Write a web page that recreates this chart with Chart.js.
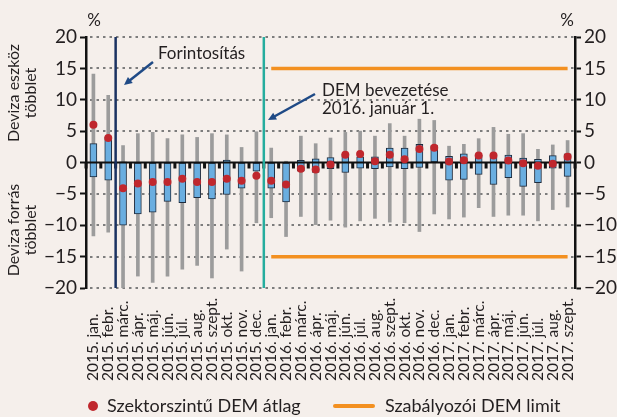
<!DOCTYPE html>
<html>
<head>
<meta charset="utf-8">
<script src="https://cdn.jsdelivr.net/npm/chart.js@4.4.1/dist/chart.umd.min.js"></script>
<style>
  html, body { margin: 0; padding: 0; background: #f5efeb; }
  #wrap { width: 617px; height: 417px; }
</style>
</head>
<body>
<div id="wrap"><canvas id="dem-chart"></canvas></div>
<script>
// Kategóriák (hónapok)
const categories = [
  "2015. jan.", "2015. febr.", "2015. márc.", "2015. ápr.", "2015. máj.", "2015. jún.",
  "2015. júl.", "2015. aug.", "2015. szept.", "2015. okt.", "2015. nov.", "2015. dec.",
  "2016. jan.", "2016. febr.", "2016. márc.", "2016. ápr.", "2016. máj.", "2016. jún.",
  "2016. júl.", "2016. aug.", "2016. szept.", "2016. okt.", "2016. nov.", "2016. dec.",
  "2017. jan.", "2017. febr.", "2017. márc.", "2017. ápr.", "2017. máj.", "2017. jún.",
  "2017. júl.", "2017. aug.", "2017. szept."
];

// Szélső értékek (bajusz)
const whiskerHigh = [14.1, 10.7, 2.7, 4.6, 4.8, 3.8, 4.4, 4.0, 4.6, 4.4, 2.4, 4.9,
  2.3, 0.2, 4.2, 3.0, 3.9, 4.8, 5.0, 4.2, 6.2, 4.2, 6.9, 6.7,
  2.6, 2.9, 3.8, 5.6, 4.5, 4.6, 2.1, 2.8, 3.5];
const whiskerLow = [-11.7, -11.1, -20, -18.1, -19.1, -18.1, -17.0, -16.4, -18.4, -13.8, -17.3, -9.6,
  -8.8, -11.8, -8.6, -9.9, -9.2, -10.3, -9.3, -8.9, -9.5, -9.6, -11.0, -8.2,
  -9.0, -8.7, -7.2, -8.6, -8.4, -8.4, -9.3, -7.5, -7.1];

// Doboz (kvartilisek)
const boxHigh = [3.0, 4.0, 0.1, 0, 0, 0, 0, 0, 0, 0.4, 0, 0,
  0, 0, 0.35, 0.6, 0.8, 1.3, 0.9, 0.9, 2.3, 2.3, 2.9, 2.7,
  1.0, 1.4, 1.2, 0.9, 1.2, 0.7, 0.5, 1.1, 1.4];
const boxLow = [-2.3, -2.8, -10.0, -8.2, -7.9, -6.2, -6.4, -5.6, -5.8, -5.1, -4.1, -1.4,
  -4.1, -6.3, -1.4, -1.6, -1.0, -1.6, -0.9, -1.0, -0.7, -1.0, -0.8, 0,
  -2.8, -2.7, -1.9, -3.5, -2.4, -3.8, -3.2, -0.9, -2.2];

// Szektorszintű DEM átlag
const average = [6.0, 3.9, -4.1, -3.35, -3.1, -3.1, -2.6, -3.1, -3.1, -2.6, -2.9, -2.1,
  -2.9, -3.5, -1.0, -1.1, -0.3, 1.25, 1.35, 0.2, 1.25, 0.5, 2.15, 2.35,
  0.15, 0.35, 1.1, 1.1, 0.3, -0.1, -0.5, -0.2, 0.9];

// Szabályozói DEM limit (2016. jan.-tól)
const limitHigh = categories.map((c, i) => (i >= 12 ? 15 : null));
const limitLow = categories.map((c, i) => (i >= 12 ? -15 : null));

const yTicks = [-20, -15, -10, -5, 0, 5, 10, 15, 20];

const FONT = "Lato, 'Open Sans', sans-serif";
const TEXT = "#231f20";

function fmt(v) {
  return v < 0 ? "\u2212" + Math.abs(v) : String(v);
}

function arrow(ctx, x1, y1, x2, y2) {
  const a = Math.atan2(y2 - y1, x2 - x1);
  const h = 9;
  ctx.save();
  ctx.strokeStyle = "#1f4a86";
  ctx.fillStyle = "#1f4a86";
  ctx.lineWidth = 2.5;
  ctx.beginPath();
  ctx.moveTo(x1, y1);
  ctx.lineTo(x2 - Math.cos(a) * h * 0.8, y2 - Math.sin(a) * h * 0.8);
  ctx.stroke();
  ctx.beginPath();
  ctx.moveTo(x2, y2);
  ctx.lineTo(x2 - h * Math.cos(a - 0.45), y2 - h * Math.sin(a - 0.45));
  ctx.lineTo(x2 - h * Math.cos(a + 0.45), y2 - h * Math.sin(a + 0.45));
  ctx.closePath();
  ctx.fill();
  ctx.restore();
}

const demPlugin = {
  id: "demPlugin",
  beforeDraw(chart) {
    const ctx = chart.ctx;
    ctx.save();
    ctx.fillStyle = "#f5efeb";
    ctx.fillRect(0, 0, chart.width, chart.height);
    ctx.restore();
  },
  beforeDatasetsDraw(chart) {
    // pontozott rácsvonalak
    const ctx = chart.ctx;
    const y = chart.scales.y;
    const area = chart.chartArea;
    ctx.save();
    ctx.strokeStyle = "#7d7d7d";
    ctx.lineWidth = 2;
    ctx.setLineDash([2.5, 4]);
    yTicks.forEach((v) => {
      if (v === 0) return;
      const py = Math.round(y.getPixelForValue(v));
      ctx.beginPath();
      ctx.moveTo(area.left + 4, py);
      ctx.lineTo(area.right, py);
      ctx.stroke();
    });
    ctx.restore();
  },
  afterDatasetDraw(chart, args) {
    // nullvonal a dobozok fölött, a pontok alatt
    if (args.index !== 3) return;
    const ctx = chart.ctx;
    const x = chart.scales.x;
    const y0 = chart.scales.y.getPixelForValue(0);
    const area = chart.chartArea;
    ctx.save();
    ctx.strokeStyle = "#111";
    ctx.lineWidth = 2;
    ctx.beginPath();
    ctx.moveTo(area.left, y0);
    ctx.lineTo(area.right, y0);
    ctx.stroke();
    ctx.lineWidth = 3;
    for (let i = 0; i <= categories.length; i++) {
      const px = x.getPixelForValue(i - 0.5);
      ctx.beginPath();
      ctx.moveTo(px, y0);
      ctx.lineTo(px, y0 + 6);
      ctx.stroke();
    }
    ctx.restore();
  },
  afterDraw(chart) {
    const ctx = chart.ctx;
    const x = chart.scales.x;
    const area = chart.chartArea;

    // függőleges jelölővonalak
    ctx.save();
    ctx.lineWidth = 2.5;
    ctx.strokeStyle = "#1b3262";
    let px = x.getPixelForValue(1.5);
    ctx.beginPath();
    ctx.moveTo(px, area.top);
    ctx.lineTo(px, area.bottom);
    ctx.stroke();
    ctx.strokeStyle = "#25ad9e";
    px = x.getPixelForValue(11.5);
    ctx.beginPath();
    ctx.moveTo(px, area.top);
    ctx.lineTo(px, area.bottom);
    ctx.stroke();
    ctx.restore();

    // feliratok, nyilak
    ctx.save();
    ctx.fillStyle = TEXT;
    ctx.font = "17px " + FONT;
    ctx.textBaseline = "middle";
    ctx.textAlign = "left";
    ctx.fillText("Forintosítás", 158, 54);
    ctx.fillText("DEM bevezetése", 322, 91);
    ctx.fillText("2016. január 1.", 322, 109);
    ctx.restore();
    arrow(ctx, 153, 62, 124, 85);
    arrow(ctx, 315, 94, 268, 120);

    // % jelek
    ctx.save();
    ctx.fillStyle = TEXT;
    ctx.font = "17px " + FONT;
    ctx.textAlign = "center";
    ctx.textBaseline = "middle";
    ctx.fillText("%", 94, 21);
    ctx.fillText("%", 567, 21);

    // tengelycímek
    ctx.font = "16px " + FONT;
    const drawRot = (txt, cx, cy) => {
      ctx.save();
      ctx.translate(cx, cy);
      ctx.rotate(-Math.PI / 2);
      ctx.fillText(txt, 0, 0);
      ctx.restore();
    };
    drawRot("Deviza eszköz", 14, 93);
    drawRot("többlet", 31, 93);
    drawRot("Deviza forrás", 14, 230);
    drawRot("többlet", 31, 230);
    ctx.restore();

    // x tengely feliratai (alulról indulva)
    ctx.save();
    ctx.fillStyle = TEXT;
    ctx.font = "15.5px " + FONT;
    ctx.textAlign = "left";
    ctx.textBaseline = "middle";
    categories.forEach((lab, i) => {
      const cx = x.getPixelForValue(i);
      ctx.save();
      ctx.translate(cx, 381);
      ctx.rotate(-Math.PI / 2);
      ctx.fillText(lab, 0, 0);
      ctx.restore();
    });
    ctx.restore();

    // jelmagyarázat
    ctx.save();
    ctx.fillStyle = "#c0272d";
    ctx.beginPath();
    ctx.arc(93, 406, 5, 0, Math.PI * 2);
    ctx.fill();
    ctx.strokeStyle = "#f39020";
    ctx.lineWidth = 4;
    ctx.lineCap = "round";
    ctx.beginPath();
    ctx.moveTo(335, 406);
    ctx.lineTo(373, 406);
    ctx.stroke();
    ctx.fillStyle = TEXT;
    ctx.font = "18px " + FONT;
    ctx.textBaseline = "middle";
    ctx.fillText("Szektorszintű DEM átlag", 107, 406);
    ctx.fillText("Szabályozói DEM limit", 385, 406);
    ctx.restore();
  }
};

const yCommon = {
  min: -20,
  max: 20,
  afterBuildTicks(scale) {
    scale.ticks = yTicks.map((v) => ({ value: v }));
  },
  ticks: {
    callback: (v) => fmt(v),
    font: { family: FONT, size: 19 },
    color: TEXT,
    padding: 3
  },
  border: { display: true, color: "#111", width: 2.5 }
};

const ctx = document.getElementById("dem-chart").getContext("2d");
const demChart = new Chart(ctx, {
  type: "bar",
  data: {
    labels: categories,
    datasets: [
      {
        type: "line",
        label: "Szektorszintű DEM átlag",
        data: average,
        showLine: false,
        pointRadius: 4,
        pointBackgroundColor: "#c0272d",
        pointBorderWidth: 0,
        order: 0
      },
      {
        type: "line",
        label: "Szabályozói DEM limit",
        data: limitHigh,
        borderColor: "#f39020",
        borderWidth: 3.5,
        pointRadius: 0,
        order: 1
      },
      {
        type: "line",
        label: "limit2",
        data: limitLow,
        borderColor: "#f39020",
        borderWidth: 3.5,
        pointRadius: 0,
        order: 1
      },
      {
        label: "box",
        data: boxLow.map((v, i) => [v, boxHigh[i]]),
        backgroundColor: "#6aaee0",
        borderColor: "#1e2c3e",
        borderWidth: 1,
        borderSkipped: false,
        barThickness: 7,
        grouped: false,
        order: 2
      },
      {
        label: "whisker",
        data: whiskerLow.map((v, i) => [v, whiskerHigh[i]]),
        backgroundColor: "#9c9c9c",
        barThickness: 3,
        grouped: false,
        order: 3
      }
    ]
  },
  options: {
    responsive: true,
    maintainAspectRatio: false,
    animation: false,
    layout: { padding: { top: 37, left: 0, right: 0, bottom: 0 } },
    plugins: {
      legend: { display: false },
      tooltip: { enabled: false }
    },
    scales: {
      x: {
        type: "category",
        offset: true,
        grid: { display: false },
        border: { display: false },
        ticks: { display: false },
        afterFit(scale) {
          scale.height = 129;
        }
      },
      y: {
        ...yCommon,
        position: "left",
        grid: {
          drawOnChartArea: false,
          tickColor: "#111",
          tickWidth: 2,
          tickLength: 6
        },
        afterFit(scale) {
          scale.width = 86;
        }
      },
      y2: {
        ...yCommon,
        position: "right",
        grid: {
          drawOnChartArea: false,
          tickColor: "#111",
          tickWidth: 2,
          tickLength: 6
        },
        afterFit(scale) {
          scale.width = 42;
        }
      }
    }
  },
  plugins: [demPlugin]
});
</script>
</body>
</html>
